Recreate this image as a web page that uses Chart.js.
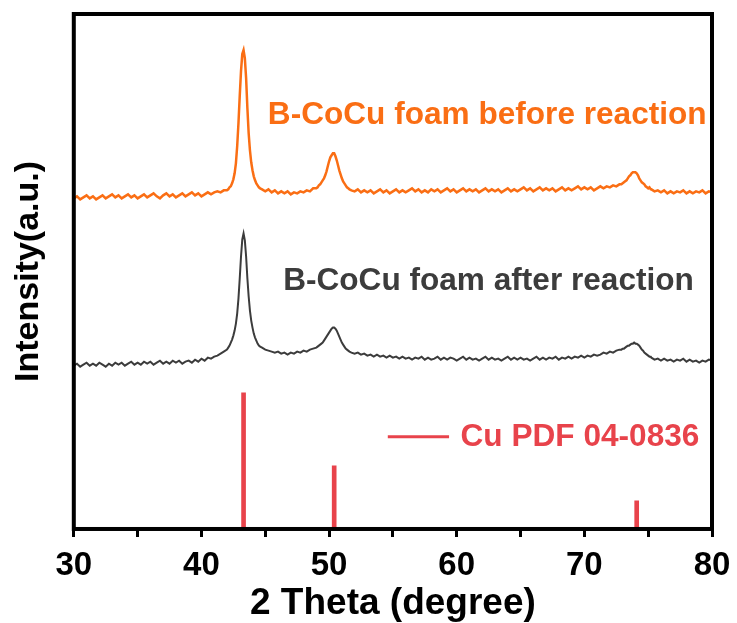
<!DOCTYPE html>
<html>
<head>
<meta charset="utf-8">
<script src="https://cdn.jsdelivr.net/npm/chart.js@4.4.1/dist/chart.umd.min.js"></script>
<style>
  html, body { margin: 0; padding: 0; background: #fff; overflow: hidden; }
  canvas { display: block; }
</style>
</head>
<body>
<canvas id="xrd" width="737" height="623"></canvas>
<script>
// 2 theta grid (degree), denser around the peaks
var twoTheta = [
  30,30.25,30.5,30.75,31,31.25,31.5,31.75,32,32.25,32.5,32.75,33,33.25,33.5,33.75,34,34.25,34.5,34.75,
  35,35.25,35.5,35.75,36,36.25,36.5,36.75,37,37.25,37.5,37.75,38,38.25,38.5,38.75,39,39.25,39.5,39.75,
  40,40.25,40.5,40.75,41,41.25,41.5,41.75,
  42,42.1,42.2,42.3,42.4,42.5,42.6,42.7,42.8,42.9,43,43.1,43.2,43.3,43.4,43.5,43.6,43.7,43.8,43.9,
  44,44.1,44.2,44.3,44.4,44.5,44.6,
  44.75,45,45.25,45.5,45.75,46,46.25,46.5,46.75,47,47.25,47.5,47.75,48,48.25,48.5,48.75,
  49,49.1,49.2,49.3,49.4,49.5,49.6,49.7,49.8,49.9,50,50.1,50.2,50.3,50.4,50.5,50.6,50.7,50.8,50.9,
  51,51.1,51.2,51.3,51.4,51.5,51.6,
  51.75,52,52.25,52.5,52.75,53,53.25,53.5,53.75,54,54.25,54.5,54.75,55,55.25,55.5,55.75,56,56.25,56.5,
  56.75,57,57.25,57.5,57.75,58,58.25,58.5,58.75,59,59.25,59.5,59.75,60,60.25,60.5,60.75,61,61.25,61.5,
  61.75,62,62.25,62.5,62.75,63,63.25,63.5,63.75,64,64.25,64.5,64.75,65,65.25,65.5,65.75,66,66.25,66.5,
  66.75,67,67.25,67.5,67.75,68,68.25,68.5,68.75,69,69.25,69.5,69.75,70,70.25,70.5,70.75,71,71.25,71.5,
  71.75,72,72.25,72.5,72.75,
  72.9,73,73.1,73.2,73.3,73.4,73.5,73.6,73.7,73.8,73.9,74,74.1,74.2,74.3,74.4,74.5,74.6,74.7,74.8,
  74.9,75,75.1,75.2,
  75.25,75.5,75.75,76,76.25,76.5,76.75,77,77.25,77.5,77.75,78,78.25,78.5,78.75,79,79.25,79.5,79.75,80
];

// B-CoCu foam before reaction (offset intensity, a.u.)
var beforeReaction = [
  330,332,329,331,333,330,332,329,331,333,330,332,334,331,333,330,332,334,331,333,
  330,332,334,331,333,335,332,330,333,335,332,334,331,333,335,332,334,336,333,335,
  332,334,336,334,336,337,336,338,
  338,339,341,342,345,349,355,365,382,405,432,457,474,478,470,450,420,395,378,366,
  358,352,348,345,343,341,340,
  339,337,339,336,338,335,337,335,337,334,336,335,337,336,338,337,340,
  340,341,343,344,346,348,350,353,357,362,367,371,373,375,375,372,368,363,358,354,
  350,347,345,343,341,340,339,
  338,337,339,336,338,336,338,335,337,339,336,338,335,337,339,336,338,336,338,340,
  337,339,336,338,336,339,337,339,336,338,340,337,339,336,338,340,337,339,337,339,
  336,338,340,337,339,337,339,336,338,340,337,339,337,339,341,338,340,337,339,341,
  338,340,338,340,337,339,341,338,340,338,340,342,339,341,339,341,338,340,342,340,
  342,341,343,342,344,
  344,345,346,347,348,350,352,353,355,356,356,356,355,353,350,348,346,345,344,342,
  341,340,341,339,
  339,337,338,336,338,335,337,335,337,336,338,335,337,335,337,336,338,335,337,336
];

// B-CoCu foam after reaction (offset intensity, a.u.)
var afterReaction = [
  163,165,162,164,166,163,165,163,166,164,162,165,163,166,164,166,163,165,167,164,
  166,164,167,165,167,164,166,168,165,167,165,168,166,168,165,167,168,166,169,167,
  170,168,171,170,172,173,175,177,
  179,181,183,186,189,193,198,205,215,230,250,272,289,295,288,272,250,232,218,208,
  201,195,191,188,185,183,182,
  181,179,178,177,176,177,175,176,174,176,175,177,176,178,177,179,180,
  181,182,183,184,185,186,188,190,192,194,196,198,200,201,201,200,198,195,192,189,
  186,184,182,180,179,178,177,
  176,175,176,174,175,173,174,172,174,172,173,171,173,171,172,170,172,170,171,169,
  171,170,172,169,171,169,170,172,169,171,169,171,170,168,170,172,169,171,169,170,
  168,170,172,169,171,169,170,168,170,172,169,171,169,171,169,170,168,170,172,169,
  171,169,171,170,172,169,171,170,172,170,172,171,173,171,173,172,174,173,174,176,
  175,177,176,178,179,
  179,180,180,181,182,183,183,184,185,185,186,185,185,184,183,181,179,178,176,175,
  174,173,172,172,
  171,169,170,168,170,168,169,167,169,168,170,167,169,167,168,166,168,167,169,168
];

// Cu PDF 04-0836 reference lines
var pdfPositions = [43.3, 50.4, 74.1];
var pdfIntensity = [136, 63, 28];

var labels = ['B-CoCu foam before reaction', 'B-CoCu foam after reaction', 'Cu PDF 04-0836'];
var xTicks = [30, 40, 50, 60, 70, 80];

var colOrange = '#fa6e14';
var colGray = '#3c3c3c';
var colRed = '#e8434b';
var fontFam = '"Liberation Sans", Arial, sans-serif';

function toPoints(xs, ys) {
  var pts = [];
  for (var i = 0; i < xs.length && i < ys.length; i++) pts.push({x: xs[i], y: ys[i]});
  return pts;
}

// frame + text labels drawn on the plot
var decor = {
  id: 'decor',
  afterDatasetsDraw: function (chart) {
    var ctx = chart.ctx, a = chart.chartArea;
    var sx = chart.scales.x, sy = chart.scales.y;
    ctx.save();
    ctx.font = 'bold 31.6px ' + fontFam;
    ctx.textBaseline = 'middle';
    ctx.textAlign = 'left';
    ctx.fillStyle = colOrange;
    ctx.fillText(labels[0], sx.getPixelForValue(45.2), sy.getPixelForValue(413));
    ctx.fillStyle = colGray;
    ctx.fillText(labels[1], sx.getPixelForValue(46.4), sy.getPixelForValue(247));
    ctx.strokeStyle = colRed;
    ctx.lineWidth = 3;
    ctx.beginPath();
    ctx.moveTo(sx.getPixelForValue(54.6), sy.getPixelForValue(92));
    ctx.lineTo(sx.getPixelForValue(59.4), sy.getPixelForValue(92));
    ctx.stroke();
    ctx.fillStyle = colRed;
    ctx.fillText(labels[2], sx.getPixelForValue(60.3), sy.getPixelForValue(92));

    ctx.strokeStyle = '#000';
    ctx.lineWidth = 4;
    ctx.strokeRect(a.left, a.top, a.right - a.left, a.bottom - a.top);
    ctx.restore();
  }
};

new Chart(document.getElementById('xrd'), {
  type: 'line',
  data: {
    datasets: [
      {
        label: labels[0],
        data: toPoints(twoTheta, beforeReaction),
        borderColor: colOrange,
        borderWidth: 2.5,
        pointRadius: 0,
        tension: 0
      },
      {
        label: labels[1],
        data: toPoints(twoTheta, afterReaction),
        borderColor: colGray,
        borderWidth: 2,
        pointRadius: 0,
        tension: 0
      },
      {
        type: 'bar',
        label: labels[2],
        data: toPoints(pdfPositions, pdfIntensity),
        backgroundColor: colRed,
        barThickness: 4
      }
    ]
  },
  options: {
    responsive: false,
    animation: false,
    layout: { padding: { top: 14, right: 25, left: 0, bottom: 0 } },
    plugins: { legend: { display: false }, tooltip: { enabled: false } },
    scales: {
      x: {
        type: 'linear',
        min: 30,
        max: 80,
        offset: false,
        afterBuildTicks: function (scale) {
          var t = [];
          for (var v = 30; v <= 80; v += 5) t.push({value: v});
          scale.ticks = t;
        },
        afterFit: function (scale) {
          // the "80" label may hang past the plot edge, like the original
          scale.paddingRight = 0;
          scale.paddingLeft = 0;
        },
        ticks: {
          color: '#000',
          padding: 12.5,
          maxRotation: 0,
          autoSkip: false,
          font: { family: fontFam, size: 33, weight: 'bold', lineHeight: 1 },
          callback: function (v) { return xTicks.indexOf(v) >= 0 ? String(v) : ''; }
        },
        grid: {
          offset: false,
          drawOnChartArea: false,
          drawTicks: true,
          tickLength: 8,
          tickWidth: 3,
          tickColor: '#000'
        },
        border: { display: false },
        title: {
          display: true,
          text: '2 Theta (degree)',
          color: '#000',
          padding: { top: 0, bottom: 11 },
          font: { family: fontFam, size: 37, weight: 'bold', lineHeight: 0.46 }
        }
      },
      y: {
        min: 0,
        max: 514,
        ticks: { display: false },
        grid: { drawOnChartArea: false, drawTicks: false },
        border: { display: false },
        title: {
          display: true,
          text: 'Intensity(a.u.)',
          color: '#000',
          padding: { top: 8, bottom: 25 },
          font: { family: fontFam, size: 34, weight: 'bold' }
        }
      }
    }
  },
  plugins: [decor]
});
</script>
</body>
</html>
